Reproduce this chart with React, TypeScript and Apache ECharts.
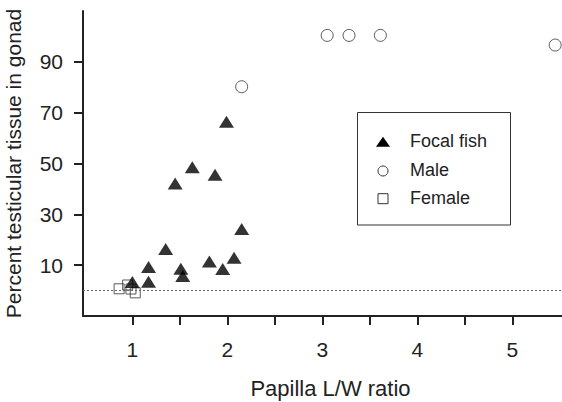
import React, { useEffect, useRef } from "react";
import * as echarts from "echarts";

const focalX = [1.99, 1.63, 1.87, 1.45, 2.15, 1.35, 1.81, 2.07, 1.17, 1.51, 1.53, 1.95, 1.17, 1.0];
const focalY = [66.4, 48.5, 45.6, 42.1, 24.2, 16.4, 11.4, 12.9, 9.3, 8.6, 5.7, 8.5, 3.5, 3.4];
const maleX = [2.15, 3.05, 3.28, 3.61, 5.45];
const maleY = [80.2, 100.4, 100.4, 100.4, 96.6];
const femaleX = [0.86, 0.95, 0.985, 1.03];
const femaleY = [0.7, 2.2, 0.6, -0.9];
const xTicks = [1, 1.5, 2, 2.5, 3, 3.5, 4, 4.5, 5];
const xLabels = [1, 2, 3, 4, 5];
const yLabels = [10, 30, 50, 70, 90];
const legendNames = ["Focal fish", "Male", "Female"];

const FONT = "'Liberation Sans', Arial, Helvetica, sans-serif";
const INK = "#222";

function zip(xs: number[], ys: number[]) {
  return xs.map((x, i) => [x, ys[i]]);
}

export default function App() {
  const ref = useRef<HTMLDivElement>(null);
  useEffect(() => {
    if (!ref.current) return;
    const chart = echarts.init(ref.current, undefined, { renderer: "svg" });
    const lx = 383;
    const ly = [141.7, 171, 198.7];
    chart.setOption({
      animation: false,
      backgroundColor: "#fff",
      grid: { left: 83, top: 11, width: 495, height: 305, outerBoundsMode: "none", containLabel: false },
      xAxis: {
        type: "value",
        min: 0.48,
        max: 5.69,
        name: "Papilla L/W ratio",
        nameLocation: "middle",
        nameGap: 61,
        nameTextStyle: { fontFamily: FONT, fontSize: 22, color: INK },
        axisLine: { show: true, onZero: false, lineStyle: { color: INK, width: 2 } },
        axisTick: { show: true, customValues: xTicks, length: 9, lineStyle: { color: INK, width: 2 } },
        axisLabel: {
          customValues: xLabels,
          margin: 23,
          fontFamily: FONT,
          fontSize: 21,
          color: INK,
        },
        splitLine: { show: false },
      },
      yAxis: {
        type: "value",
        min: -10,
        max: 110,
        name: "Percent testicular tissue in gonad",
        nameLocation: "middle",
        nameGap: 59,
        nameTextStyle: { fontFamily: FONT, fontSize: 21, color: INK },
        axisLine: { show: true, onZero: false, lineStyle: { color: INK, width: 2 } },
        axisTick: { show: true, customValues: yLabels, length: 9, lineStyle: { color: INK, width: 2 } },
        axisLabel: {
          customValues: yLabels,
          margin: 20,
          fontFamily: FONT,
          fontSize: 21,
          color: INK,
        },
        splitLine: { show: false },
      },
      series: [
        {
          name: legendNames[0],
          type: "scatter",
          data: zip(focalX, focalY),
          symbol: "triangle",
          symbolSize: [15, 12],
          itemStyle: { color: "#000" },
          z: 3,
          markLine: {
            silent: true,
            symbol: "none",
            label: { show: false },
            lineStyle: { color: "#666", width: 1, type: [2, 2] },
            data: [{ yAxis: 0 }],
          },
        },
        {
          name: legendNames[1],
          type: "scatter",
          data: zip(maleX, maleY),
          symbol: "circle",
          symbolSize: 12,
          itemStyle: { color: "rgba(255,255,255,0)", borderColor: "#333", borderWidth: 1 },
        },
        {
          name: legendNames[2],
          type: "scatter",
          data: zip(femaleX, femaleY),
          symbol: "rect",
          symbolSize: 10,
          itemStyle: { color: "rgba(255,255,255,0)", borderColor: "#333", borderWidth: 1 },
        },
      ],
      graphic: [
        {
          type: "rect",
          shape: { x: 357.5, y: 112.5, width: 153, height: 112.5 },
          style: { fill: "#fff", stroke: "#333", lineWidth: 1 },
          z: 10,
        },
        {
          type: "polygon",
          shape: { points: [[lx - 7, ly[0] + 5], [lx + 7, ly[0] + 5], [lx, ly[0] - 5]] },
          style: { fill: "#000" },
          z: 11,
        },
        {
          type: "circle",
          shape: { cx: lx, cy: ly[1], r: 5 },
          style: { fill: "#fff", stroke: "#333", lineWidth: 1 },
          z: 11,
        },
        {
          type: "rect",
          shape: { x: lx - 5, y: ly[2] - 5, width: 10, height: 10 },
          style: { fill: "#fff", stroke: "#333", lineWidth: 1 },
          z: 11,
        },
        ...legendNames.map((n, i) => ({
          type: "text",
          x: 410,
          y: ly[i] - 1,
          style: {
            text: n,
            fontFamily: FONT,
            fontSize: 18,
            fill: INK,
            verticalAlign: "middle",
            align: "left",
          },
          z: 11,
        })),
      ],
    });
    return () => chart.dispose();
  }, []);
  return <div ref={ref} style={{ width: 562, height: 402, position: "absolute", left: 0, top: 0 }} />;
}
